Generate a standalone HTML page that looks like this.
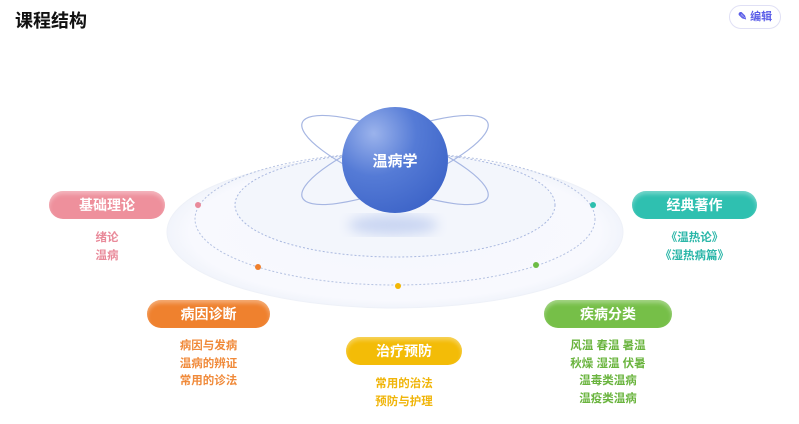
<!DOCTYPE html>
<html><head><meta charset="utf-8"><style>
body{margin:0;width:799px;height:424px;background:#fff;font-family:"Liberation Sans","Noto Sans CJK SC",sans-serif;position:relative;overflow:hidden}
.t{position:absolute;left:15px;top:7px;font-size:18px;font-weight:bold;color:#111}
.ed{position:absolute;left:729px;top:5px;width:50px;height:22px;border:1px solid #e0e0f5;border-radius:12px;font-size:11px;font-weight:bold;color:#5b5ee8;text-align:center;line-height:22px}
.p{position:absolute;height:28px;border-radius:14px;color:#fff;font-size:14px;font-weight:bold;text-align:center;line-height:28px;box-shadow:inset 0 3px 4px rgba(255,255,255,.35)}
.l{position:absolute;font-size:11.5px;font-weight:bold;text-align:center;line-height:17.5px}
</style></head><body>
<div class="t">课程结构</div>
<div class="ed">✎ 编辑</div>
<svg width="799" height="424" style="position:absolute;left:0;top:0">
<defs>
<radialGradient id="g" cx="30%" cy="25%" r="80%"><stop offset="0" stop-color="#9bb3ec"/><stop offset=".5" stop-color="#557bd6"/><stop offset="1" stop-color="#3f66c9"/></radialGradient>
<radialGradient id="pl" cx="50%" cy="50%" r="50%"><stop offset="0" stop-color="#f5f7fd"/><stop offset=".9" stop-color="#f8f9fe"/><stop offset="1" stop-color="#f1f4fb"/></radialGradient>
<filter id="b"><feGaussianBlur stdDeviation="6"/></filter>
</defs>
<ellipse cx="395" cy="232" rx="228" ry="76" fill="url(#pl)" stroke="#eef1f8"/>
<ellipse cx="395" cy="219" rx="200" ry="66" fill="none" stroke="#b5c2e2" stroke-dasharray="2 2"/>
<ellipse cx="395" cy="205" rx="160" ry="52" fill="#f3f6fc" stroke="#aab9e0" stroke-dasharray="2 2"/>
<ellipse cx="393" cy="225" rx="45" ry="10" fill="#c9d5f2" filter="url(#b)"/>
<ellipse cx="395" cy="160" rx="100" ry="26" transform="rotate(22 395 160)" fill="none" stroke="#a6b6e2" stroke-width="1.2"/>
<ellipse cx="395" cy="160" rx="100" ry="26" transform="rotate(-22 395 160)" fill="none" stroke="#a6b6e2" stroke-width="1.2"/>
<circle cx="395" cy="160" r="53" fill="url(#g)"/>
<text x="395" y="166" font-size="15" font-weight="bold" fill="#fff" text-anchor="middle" font-family="Liberation Sans,Noto Sans CJK SC,sans-serif">温病学</text>
<circle cx="198" cy="205" r="3" fill="#e98a9a"/>
<circle cx="258" cy="267" r="3" fill="#ef7f2c"/>
<circle cx="398" cy="286" r="3" fill="#f2b705"/>
<circle cx="536" cy="265" r="3" fill="#6dbc45"/>
<circle cx="593" cy="205" r="3" fill="#2dbfae"/>
</svg>
<div class="p" style="left:49px;top:191px;width:116px;background:#ee909c">基础理论</div>
<div class="l" style="left:49px;top:230px;width:116px;color:#e98a9a">绪论<br>温病</div>
<div class="p" style="left:632px;top:191px;width:125px;background:#2fc0b0">经典著作</div>
<div class="l" style="left:632px;top:230px;width:125px;color:#2ab6a8">《温热论》<br>《湿热病篇》</div>
<div class="p" style="left:147px;top:300px;width:123px;background:#ef812e">病因诊断</div>
<div class="l" style="left:147px;top:338px;width:123px;color:#f08a3a">病因与发病<br>温病的辨证<br>常用的诊法</div>
<div class="p" style="left:346px;top:337px;width:116px;background:#f3bc07">治疗预防</div>
<div class="l" style="left:346px;top:376px;width:116px;color:#f0b50a">常用的治法<br>预防与护理</div>
<div class="p" style="left:544px;top:300px;width:128px;background:#76bf48">疾病分类</div>
<div class="l" style="left:544px;top:338px;width:128px;color:#6ab43e">风温 春温 暑温<br>秋燥 湿温 伏暑<br>温毒类温病<br>温疫类温病</div>
</body></html>
